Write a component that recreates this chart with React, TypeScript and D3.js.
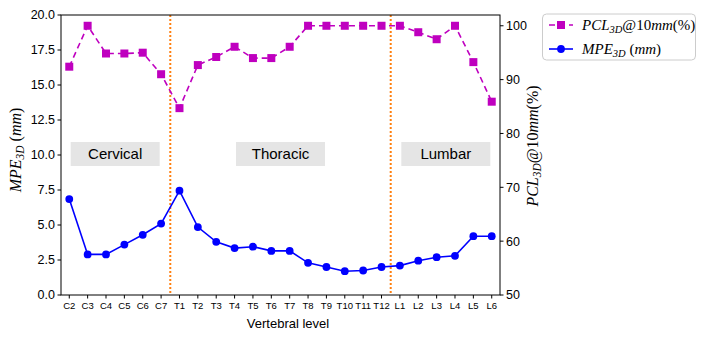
import React from "react";
import * as d3 from "d3";

// Vertebral levels along x
const levels = [
  "C2", "C3", "C4", "C5", "C6", "C7",
  "T1", "T2", "T3", "T4", "T5", "T6", "T7", "T8", "T9", "T10", "T11", "T12",
  "L1", "L2", "L3", "L4", "L5", "L6",
];

// MPE_3D (mm), left axis
const mpe = [
  6.85, 2.9, 2.9, 3.6, 4.3, 5.1,
  7.45, 4.85, 3.8, 3.35, 3.45, 3.15, 3.15, 2.3, 2.0, 1.7, 1.75, 2.0,
  2.1, 2.45, 2.7, 2.8, 4.2, 4.2,
];

// PCL_3D@10mm (%), right axis
const pcl = [
  92.4, 100, 94.85, 94.85, 95.0, 91.0,
  84.7, 92.7, 94.2, 96.1, 94.0, 94.0, 96.1, 100, 100, 100, 100, 100,
  100, 98.8, 97.5, 100, 93.25, 85.9,
];

const leftTicks = [0, 2.5, 5, 7.5, 10, 12.5, 15, 17.5, 20];
const rightTicks = [50, 60, 70, 80, 90, 100];

// region boundaries (between C7/T1 and T12/L1) and region labels
const boundaries = [5.5, 17.5];
const regions = [
  { name: "Cervical", at: 2.5 },
  { name: "Thoracic", at: 11.5 },
  { name: "Lumbar", at: 20.5 },
];

const W = 703, H = 337;
const margin = { top: 15, right: 203, bottom: 42, left: 61 };
const x0 = margin.left, x1 = W - margin.right;
const y0 = margin.top, y1 = H - margin.bottom;

const sans = "'Liberation Sans', Arial, sans-serif";
const serif = "'Liberation Serif', 'DejaVu Serif', serif";

const Sq = ({ cx, cy, s = 8, fill }: { cx: number; cy: number; s?: number; fill: string }) => (
  <rect x={cx - s / 2} y={cy - s / 2} width={s} height={s} fill={fill} />
);

export default function App() {
  const x = d3.scaleLinear().domain([-0.45, levels.length - 1 + 0.45]).range([x0, x1]);
  const yL = d3.scaleLinear().domain([0, 20]).range([y1, y0]);
  const yR = d3.scaleLinear().domain([50, 102]).range([y1, y0]);

  const mpeLine = d3.line<number>().x((_, i) => x(i)).y((d) => yL(d))(mpe) || "";
  const pclLine = d3.line<number>().x((_, i) => x(i)).y((d) => yR(d))(pcl) || "";

  const magenta = "#bf00bf";
  const blue = "#0000ff";
  const orange = "#ff7f0e";

  return (
    <svg
      width={W}
      height={H}
      style={{ position: "absolute", left: 0, top: 0, background: "#fff" }}
    >
      {/* region label boxes */}
      {regions.map((r) => (
        <g key={r.name}>
          <rect x={x(r.at) - 44.5} y={142} width={89} height={24} fill="#e5e5e5" />
          <text
            x={x(r.at)}
            y={154}
            dy="0.35em"
            textAnchor="middle"
            fontFamily={sans}
            fontSize={15}
          >
            {r.name}
          </text>
        </g>
      ))}

      {/* boundaries */}
      {boundaries.map((b) => (
        <line
          key={b}
          x1={x(b)}
          x2={x(b)}
          y1={y0}
          y2={y1}
          stroke={orange}
          strokeWidth={2}
          strokeDasharray="2,2"
        />
      ))}

      {/* PCL series */}
      <path d={pclLine} fill="none" stroke={magenta} strokeWidth={1.6} strokeDasharray="6,4" />
      {pcl.map((v, i) => (
        <Sq key={i} cx={x(i)} cy={yR(v)} fill={magenta} />
      ))}

      {/* MPE series */}
      <path d={mpeLine} fill="none" stroke={blue} strokeWidth={1.6} />
      {mpe.map((v, i) => (
        <circle key={i} cx={x(i)} cy={yL(v)} r={3.9} fill={blue} />
      ))}

      {/* frame */}
      <rect x={x0} y={y0} width={x1 - x0} height={y1 - y0} fill="none" stroke="#000" strokeWidth={1} />

      {/* left axis */}
      {leftTicks.map((t) => (
        <g key={t} transform={`translate(${x0},${yL(t)})`}>
          <line x1={-3.5} x2={0} stroke="#000" />
          <text x={-6} dy="0.35em" textAnchor="end" fontFamily={sans} fontSize={12.5}>
            {t.toFixed(1)}
          </text>
        </g>
      ))}

      {/* right axis */}
      {rightTicks.map((t) => (
        <g key={t} transform={`translate(${x1},${yR(t)})`}>
          <line x1={0} x2={3.5} stroke="#000" />
          <text x={6} dy="0.35em" textAnchor="start" fontFamily={sans} fontSize={12.5}>
            {t}
          </text>
        </g>
      ))}

      {/* bottom axis */}
      {levels.map((l, i) => (
        <g key={l} transform={`translate(${x(i)},${y1})`}>
          <line y1={0} y2={3.5} stroke="#000" />
          <text y={11} dy="0.35em" textAnchor="middle" fontFamily={sans} fontSize={9.5}>
            {l}
          </text>
        </g>
      ))}

      <text x={288} y={323} dy="0.35em" textAnchor="middle" fontFamily={sans} fontSize={13}>
        Vertebral level
      </text>

      {/* left axis label */}
      <text
        transform={`translate(21,150) rotate(-90)`}
        textAnchor="middle"
        fontFamily={serif}
        fontSize={16}
        fill="#000"
      >
        <tspan fontStyle="italic">MPE</tspan>
        <tspan fontStyle="italic" fontSize={11.5} dy={3}>3D</tspan>
        <tspan dy={-3}> (</tspan>
        <tspan fontStyle="italic">mm</tspan>
        <tspan>)</tspan>
      </text>

      {/* right axis label */}
      <text
        transform={`translate(538,146) rotate(-90)`}
        textAnchor="middle"
        fontFamily={serif}
        fontSize={16}
        fill="#000"
      >
        <tspan fontStyle="italic">PCL</tspan>
        <tspan fontStyle="italic" fontSize={11.5} dy={3}>3D</tspan>
        <tspan dy={-3}>@10</tspan>
        <tspan fontStyle="italic">mm</tspan>
        <tspan>(%)</tspan>
      </text>

      {/* legend */}
      <g>
        <rect x={542.5} y={14} width={153} height={46} rx={4} fill="#fff" stroke="#cccccc" />
        <line x1={549} x2={573} y1={25} y2={25} stroke={magenta} strokeWidth={1.6} strokeDasharray="6,4" />
        <Sq cx={561} cy={25} fill={magenta} />
        <text x={582} y={25} dy="0.35em" fontFamily={serif} fontSize={15}>
          <tspan fontStyle="italic">PCL</tspan>
          <tspan fontStyle="italic" fontSize={10.5} dy={3}>3D</tspan>
          <tspan dy={-3}>@10</tspan>
          <tspan fontStyle="italic">mm</tspan>
          <tspan>(%)</tspan>
        </text>
        <line x1={549} x2={573} y1={49} y2={49} stroke={blue} strokeWidth={1.6} />
        <circle cx={561} cy={49} r={3.9} fill={blue} />
        <text x={582} y={49} dy="0.35em" fontFamily={serif} fontSize={15}>
          <tspan fontStyle="italic">MPE</tspan>
          <tspan fontStyle="italic" fontSize={10.5} dy={3}>3D</tspan>
          <tspan dy={-3}> (</tspan>
          <tspan fontStyle="italic">mm</tspan>
          <tspan>)</tspan>
        </text>
      </g>
    </svg>
  );
}
